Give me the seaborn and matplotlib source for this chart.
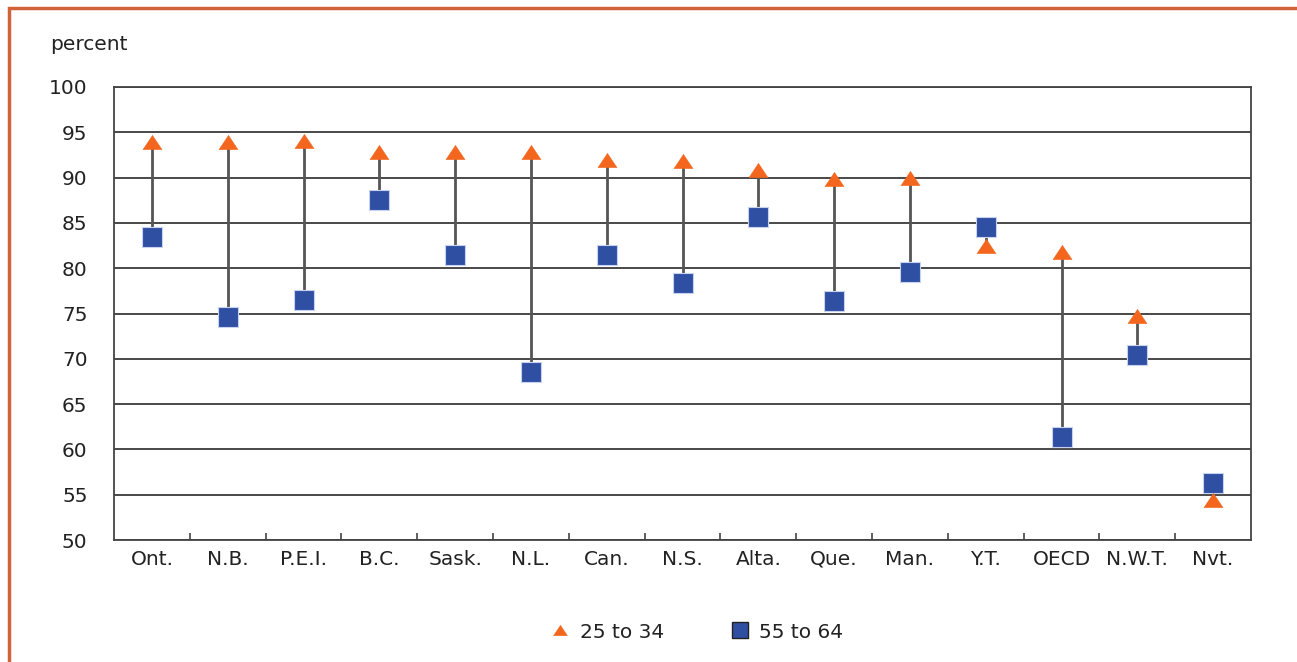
import numpy as np
import pandas as pd
import matplotlib
matplotlib.use("Agg")
import matplotlib.pyplot as plt
from matplotlib.lines import Line2D
from matplotlib.patches import Rectangle
import seaborn as sns

# Share of population with at least upper secondary education, by age group
regions = ["Ont.", "N.B.", "P.E.I.", "B.C.", "Sask.", "N.L.", "Can.", "N.S.",
           "Alta.", "Que.", "Man.", "Y.T.", "OECD", "N.W.T.", "Nvt."]
age_25_34 = [93.9, 93.9, 94.0, 92.8, 92.8, 92.8, 91.9, 91.8,
             90.8, 89.8, 90.0, 82.5, 81.8, 74.7, 54.4]
age_55_64 = [83.4, 74.6, 76.5, 87.5, 81.5, 68.5, 81.5, 78.4,
             85.6, 76.4, 79.6, 84.5, 61.4, 70.4, 56.3]
series_names = ["25 to 34", "55 to 64"]
y_ticks = [50, 55, 60, 65, 70, 75, 80, 85, 90, 95, 100]

ORANGE = "#F4661E"
BLUE = "#2F4FA3"
FRAME = "#D2623A"
GRID = "#2a2a2a"
FS = 14.5

sns.set_theme(style="white")
plt.rcParams["font.family"] = ["DejaVu Sans"]
plt.rcParams["text.color"] = "#222222"

df = pd.DataFrame({"region": regions,
                   series_names[0]: age_25_34,
                   series_names[1]: age_55_64})

W, H = 1297, 662
fig = plt.figure(figsize=(W / 100, H / 100), dpi=100)
fig.patch.set_facecolor("white")
ax = fig.add_axes([114 / W, 1 - 540 / H, 1137 / W, 453 / H])

# connectors between the two age groups
pos = np.arange(len(regions))
ax.vlines(pos, df[series_names[0]], df[series_names[1]],
          color="#555555", lw=2, zorder=2)

# flattened triangle marker
tri = [(-1, -0.75), (1, -0.75), (0, 0.75), (-1, -0.75)]

sns.scatterplot(data=df, x="region", y=series_names[1], marker="s", s=205,
                color=BLUE, edgecolor="#c8d2ee", linewidth=0.8,
                zorder=3, ax=ax, legend=False)
sns.scatterplot(data=df, x="region", y=series_names[0], marker=tri, s=190,
                color=ORANGE, edgecolor=ORANGE, linewidth=0.3,
                zorder=4, ax=ax, legend=False)

ax.set_xlim(-0.5, len(regions) - 0.5)
ax.set_ylim(50, 100)
ax.set_yticks(y_ticks)
ax.set_yticklabels([str(v) for v in y_ticks], fontsize=FS)
ax.set_xticks(pos)
ax.set_xticklabels(regions, fontsize=FS)
ax.set_xticks(np.arange(0.5, len(regions) - 1, 1), minor=True)
ax.tick_params(axis="y", length=0, pad=19, labelcolor="#222222")
ax.tick_params(axis="x", which="major", length=0, pad=7, labelcolor="#222222")
ax.tick_params(axis="x", which="minor", direction="in", length=5,
               width=1.2, color="#444444", bottom=True)
ax.set_xlabel("")
ax.set_ylabel("")

ax.yaxis.grid(True, color=GRID, lw=1.2)
ax.xaxis.grid(False)
ax.set_axisbelow(True)
for sp in ax.spines.values():
    sp.set_color("#444444")
    sp.set_linewidth(1.3)

fig.text(50 / W, 1 - 45 / H, "percent", fontsize=FS, va="center", ha="left")

handles = [
    Line2D([], [], linestyle="none", marker=tri, markersize=10,
           markerfacecolor=ORANGE, markeredgecolor=ORANGE, markeredgewidth=0.3),
    Line2D([], [], linestyle="none", marker="s", markersize=11,
           markerfacecolor=BLUE, markeredgecolor="#222222", markeredgewidth=1),
]
fig.legend(handles, series_names, loc="center", ncol=2, frameon=False,
           bbox_to_anchor=(697 / W, 1 - 632 / H), fontsize=FS,
           handletextpad=0.45, columnspacing=3.3, handlelength=1.0)

# frame around the figure
fig.patches.append(Rectangle((9 / W, -0.2), 1.2, 1 - 8 / H + 0.2,
                             transform=fig.transFigure, fill=False,
                             edgecolor=FRAME, lw=2.5, zorder=0))

fig.savefig("out.png", dpi=100)
